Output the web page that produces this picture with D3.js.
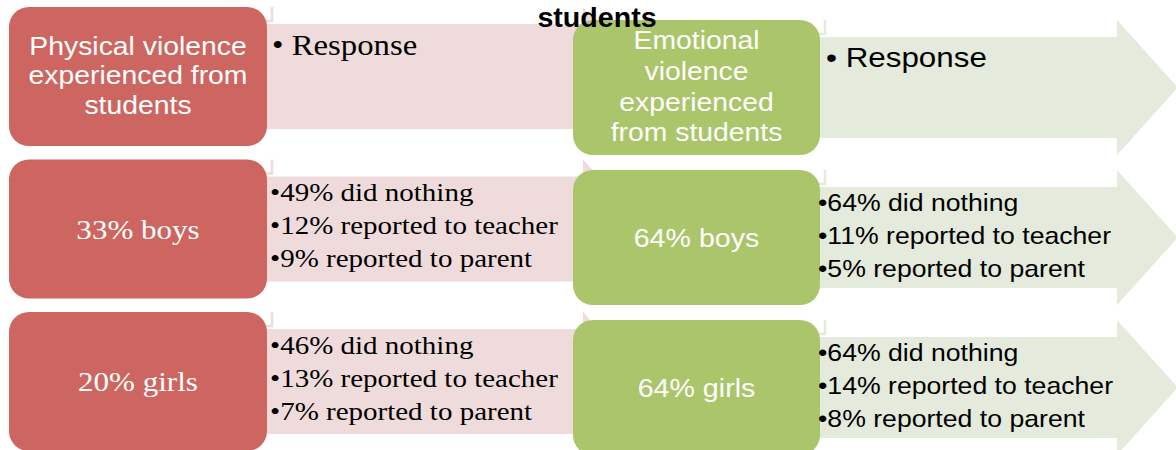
<!DOCTYPE html>
<html>
<head>
<meta charset="utf-8">
<script src="https://cdn.jsdelivr.net/npm/d3@7"></script>
<style>
  html, body { margin: 0; padding: 0; background: #fff; }
  svg { display: block; }
</style>
</head>
<body>
<div id="chart"></div>
<script>
// rows of the diagram: a heading row, then one row per group
const rows = ["header", "boys", "girls"];
const groups = ["boys", "girls"];

const physicalHeading = ["Physical violence", "experienced from", "students"];
const emotionalHeading = ["Emotional", "violence", "experienced", "from students"];

const physicalShare = [33, 20];   // % of boys / girls
const emotionalShare = [64, 64];

const responseTypes = ["did nothing", "reported to teacher", "reported to parent"];
const physicalBoys = [49, 12, 9];
const physicalGirls = [46, 13, 7];
const emotionalBoys = [64, 11, 5];
const emotionalGirls = [64, 14, 8];

const titleText = "students";

const width = 1176;
const height = 450;

const svg = d3.select("#chart")
  .append("svg")
  .attr("width", width)
  .attr("height", height);

// vertical bands, the green column sits a little lower than the red one
const yRed = d3.scaleBand().domain(rows).range([7, 451]).paddingInner(0.0885);
const yGreen = d3.scaleBand().domain(rows).range([20, 455]).paddingInner(0.1);

const panels = [
  {
    key: "physical",
    y: yRed,
    boxX: 9, boxW: 258,
    headX: 583,
    boxFill: "#CD6660", arrowFill: "#EFDBDC",
    heading: physicalHeading,
    share: physicalShare,
    responses: [physicalBoys, physicalGirls],
    textX: 270, respX: 272,
    bodyFont: "'Liberation Serif', serif", bodySize: 25, bodyStretch: 1.16,
    respFont: "'Liberation Serif', serif", respSize: 29, respStretch: 1.13,
    labelFont: "'Liberation Serif', serif", labelSize: 27, labelStretch: 1.15,
    headFont: "'Liberation Sans', Arial, sans-serif", headSize: 26, headLine: 29.5, headStretch: 1.09,
    respBase: 48, lineBase: 42, lineStep: 33
  },
  {
    key: "emotional",
    y: yGreen,
    boxX: 573, boxW: 247,
    headX: 1117,
    boxFill: "#ABC56B", arrowFill: "#E4EADC",
    heading: emotionalHeading,
    share: emotionalShare,
    responses: [emotionalBoys, emotionalGirls],
    textX: 818, respX: 826,
    bodyFont: "'Liberation Sans', Arial, sans-serif", bodySize: 24, bodyStretch: 1.11,
    respFont: "'Liberation Sans', Arial, sans-serif", respSize: 28, respStretch: 1.12,
    labelFont: "'Liberation Sans', Arial, sans-serif", labelSize: 26, labelStretch: 1.1,
    headFont: "'Liberation Sans', Arial, sans-serif", headSize: 26, headLine: 30.6, headStretch: 1.09,
    respBase: 47, lineBase: 41, lineStep: 33
  }
];

function arrowPath(x0, xHead, top, bottom, inset) {
  const mid = (top + bottom) / 2;
  const tip = xHead + (bottom - top) / 2 * 0.9;
  const p = d3.path();
  p.moveTo(x0, top + inset);
  p.lineTo(xHead, top + inset);
  p.lineTo(xHead, top);
  p.lineTo(tip, mid);
  p.lineTo(xHead, bottom);
  p.lineTo(xHead, bottom - inset);
  p.lineTo(x0, bottom - inset);
  p.closePath();
  return p.toString();
}

function stretchText(sel, x, y, sx) {
  return sel.attr("transform", `translate(${x},${y}) scale(${sx},1)`);
}

// arrows first (they run under the boxes)
const arrowLayer = svg.append("g").attr("class", "arrows");
panels.forEach(pn => {
  arrowLayer.selectAll(`path.${pn.key}`)
    .data(rows)
    .join("path")
      .attr("class", pn.key)
      .attr("d", r => arrowPath(pn.boxX + pn.boxW / 2, pn.headX,
        pn.y(r), pn.y(r) + pn.y.bandwidth(), 17))
      .attr("fill", pn.arrowFill);

  // little pale corner marks at the top right of each box
  arrowLayer.selectAll(`path.mark-${pn.key}`)
    .data(rows)
    .join("path")
      .attr("class", `mark-${pn.key}`)
      .attr("d", r => {
        const x = pn.boxX + pn.boxW + 5, y = pn.y(r);
        return `M${x},${y} V${y + 14} H${x - 6}`;
      })
      .attr("fill", "none")
      .attr("stroke", pn.arrowFill)
      .attr("stroke-width", 2.5);
});

const boxLayer = svg.append("g").attr("class", "boxes");
const textLayer = svg.append("g").attr("class", "texts");

panels.forEach(pn => {
  const bw = pn.y.bandwidth();

  boxLayer.selectAll(`rect.${pn.key}`)
    .data(rows)
    .join("rect")
      .attr("class", pn.key)
      .attr("x", pn.boxX)
      .attr("y", r => pn.y(r))
      .attr("width", pn.boxW)
      .attr("height", bw)
      .attr("rx", 20)
      .attr("fill", pn.boxFill);

  const cx = pn.boxX + pn.boxW / 2;

  // heading box text
  const cy0 = pn.y("header") + bw / 2;
  const n = pn.heading.length;
  textLayer.selectAll(`text.head-${pn.key}`)
    .data(pn.heading)
    .join("text")
      .attr("class", `head-${pn.key}`)
      .attr("text-anchor", "middle")
      .attr("fill", "#fff")
      .style("font-family", pn.headFont)
      .style("font-size", pn.headSize + "px")
      .each(function(d, i) {
        stretchText(d3.select(this), cx,
          cy0 + (i - (n - 1) / 2) * pn.headLine + pn.headSize * 0.3, pn.headStretch);
      })
      .text(d => d);

  // "Response" bullet
  stretchText(textLayer.append("text"), pn.respX, pn.y("header") + pn.respBase, pn.respStretch)
    .attr("fill", "#000")
    .style("font-family", pn.respFont)
    .style("font-size", pn.respSize + "px")
    .text("\u2022 Response");

  // group rows
  groups.forEach((g, gi) => {
    const top = pn.y(g);
    stretchText(textLayer.append("text"), cx, top + bw / 2 + pn.labelSize * 0.37, pn.labelStretch)
      .attr("text-anchor", "middle")
      .attr("fill", "#fff")
      .style("font-family", pn.labelFont)
      .style("font-size", pn.labelSize + "px")
      .text(`${pn.share[gi]}% ${g}`);

    textLayer.selectAll(null)
      .data(pn.responses[gi])
      .join("text")
        .attr("fill", "#000")
        .style("font-family", pn.bodyFont)
        .style("font-size", pn.bodySize + "px")
        .each(function(d, i) {
          stretchText(d3.select(this), pn.textX, top + pn.lineBase + i * pn.lineStep, pn.bodyStretch);
        })
        .text((d, i) => `\u2022${d}% ${responseTypes[i]}`);
  });
});

// the cut-off title fragment above the diagram
stretchText(svg.append("text"), 597, 27, 1.06)
  .attr("text-anchor", "middle")
  .attr("fill", "#000")
  .style("font-family", "'Liberation Sans', Arial, sans-serif")
  .style("font-weight", "bold")
  .style("font-size", "27px")
  .text(titleText);
</script>
</body>
</html>
